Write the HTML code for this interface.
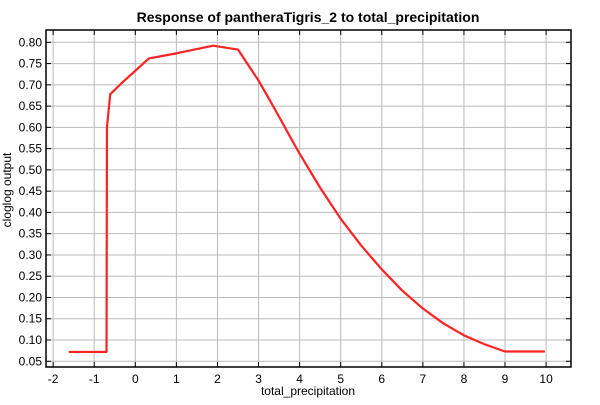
<!DOCTYPE html>
<html><head><meta charset="utf-8"><style>
body{margin:0;background:#fff;}
svg{font-family:"Liberation Sans",sans-serif;}
</style></head><body>
<svg id="chart" width="600" height="400">
<text x="308" y="22" text-anchor="middle" font-size="14" font-weight="bold">Response of pantheraTigris_2 to total_precipitation</text>
<text x="308" y="395" text-anchor="middle" font-size="12">total_precipitation</text>
<text transform="translate(11,190) rotate(-90)" text-anchor="middle" font-size="12">cloglog output</text>
<g id="grid"></g><g id="ticks"></g><g id="series"></g>
<rect x="46" y="30" width="525" height="337" fill="none" stroke="#000" stroke-width="1.5"/>
</svg>
<script>
const xTicks=[-2,-1,0,1,2,3,4,5,6,7,8,9,10];
const yTicks=[0.05,0.10,0.15,0.20,0.25,0.30,0.35,0.40,0.45,0.50,0.55,0.60,0.65,0.70,0.75,0.80];
const xs=[-1.6,-0.7,-0.69,-0.61,-0.3,0.33,1.0,1.89,2.5,3.0,3.25,3.5,3.75,4.0,4.5,5.0,5.5,6.0,6.5,7.0,7.5,8.0,8.5,9.0,9.5,9.95];
const ys=[0.072,0.072,0.60,0.678,0.707,0.762,0.774,0.792,0.783,0.71,0.668,0.625,0.581,0.538,0.458,0.385,0.322,0.266,0.216,0.174,0.139,0.111,0.090,0.073,0.073,0.073];
const X=v=>135.3+v*41.08;
const Y=v=>42.3+(0.80-v)*425.3;
const NS='http://www.w3.org/2000/svg';
const g=document.getElementById('grid'),t=document.getElementById('ticks'),s=document.getElementById('series');
function mk(tag,attrs,parent){const e=document.createElementNS(NS,tag);for(const k in attrs)e.setAttribute(k,attrs[k]);parent.appendChild(e);return e;}
xTicks.forEach(v=>{
 const l=mk('line',{x1:X(v),x2:X(v),y1:30,y2:367,stroke:'#bbb','stroke-width':1},g);
 
 
 mk('line',{x1:X(v),x2:X(v),y1:367,y2:362,stroke:'#000'},t);
 mk('line',{x1:X(v),x2:X(v),y1:30,y2:35,stroke:'#000'},t);
 const tx=mk('text',{x:X(v),y:383,'text-anchor':'middle','font-size':12},t);
 tx.textContent=v;
 
 
});
yTicks.forEach(v=>{
 const l=mk('line',{x1:46,x2:571,y1:Y(v),y2:Y(v),stroke:'#bbb','stroke-width':1},g);
 
 
 mk('line',{x1:46,x2:51,y1:Y(v),y2:Y(v),stroke:'#000'},t);
 mk('line',{x1:566,x2:571,y1:Y(v),y2:Y(v),stroke:'#000'},t);
 const tx=mk('text',{x:42,y:Y(v)+4,'text-anchor':'end','font-size':12},t);
 tx.textContent=v.toFixed(2);
 
 
});
const p=mk('polyline',{points:xs.map((x,i)=>X(x)+','+Y(ys[i])).join(' '),fill:'none',stroke:'#f22','stroke-width':2.2,'stroke-linejoin':'round','stroke-linecap':'round'},s);


</script>
</body></html>
